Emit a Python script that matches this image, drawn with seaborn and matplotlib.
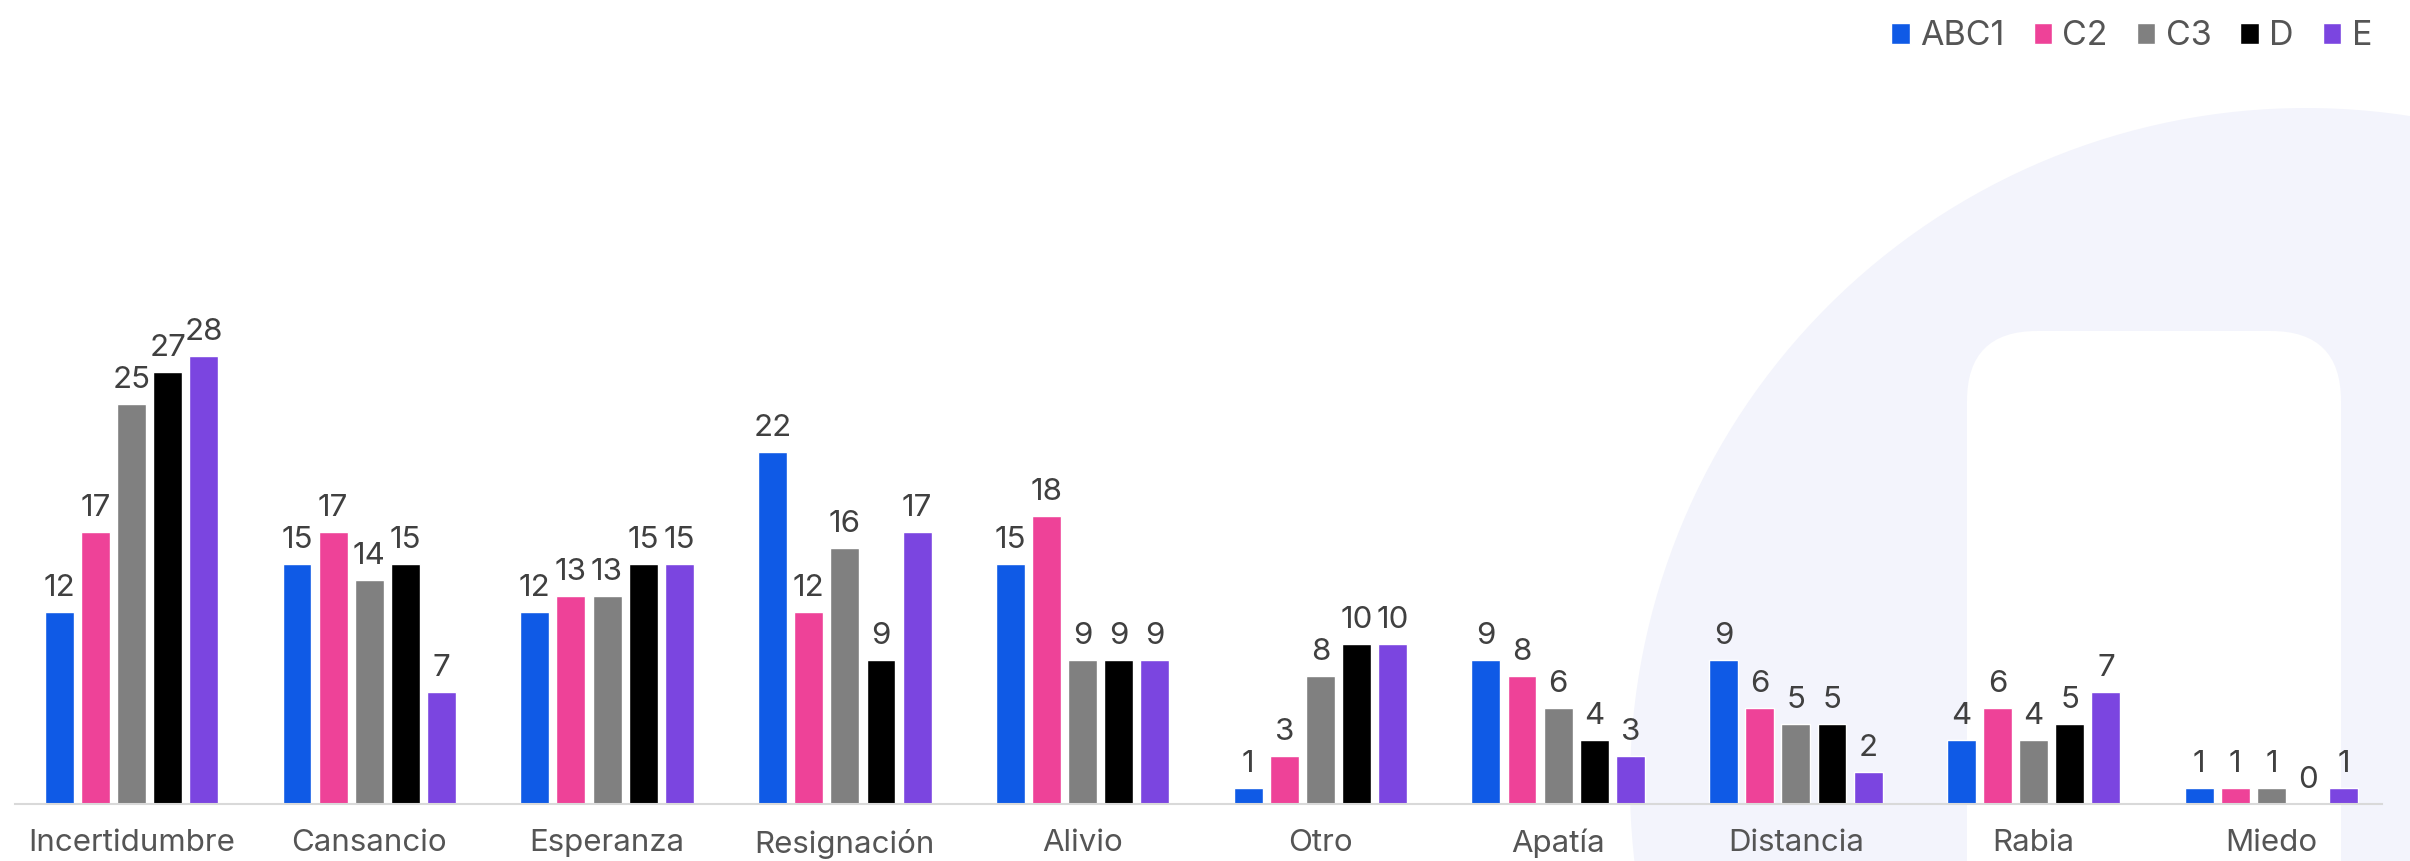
import pandas as pd
import matplotlib.pyplot as plt
import seaborn as sns
from matplotlib.patches import Circle, FancyBboxPatch

# datos
categorias = ['Incertidumbre', 'Cansancio', 'Esperanza', 'Resignación', 'Alivio',
              'Otro', 'Apatía', 'Distancia', 'Rabia', 'Miedo']
grupos = ['ABC1', 'C2', 'C3', 'D', 'E']
abc1 = [12, 15, 12, 22, 15, 1, 9, 9, 4, 1]
c2 = [17, 17, 13, 12, 18, 3, 8, 6, 6, 1]
c3 = [25, 14, 13, 16, 9, 8, 6, 5, 4, 1]
d = [27, 15, 15, 9, 9, 10, 4, 5, 5, 0]
e = [28, 7, 15, 17, 9, 10, 3, 2, 7, 1]
colores = ['#0f5ae6', '#ee4298', '#808080', '#000000', '#7b45e0']

filas = []
for g, vals in zip(grupos, [abc1, c2, c3, d, e]):
    for cat, v in zip(categorias, vals):
        filas.append({'categoria': cat, 'grupo': g, 'valor': v})
df = pd.DataFrame(filas)

sns.set_style('white')
plt.rcParams['font.family'] = ['Inter', 'DejaVu Sans']

fig = plt.figure(figsize=(24.1, 8.61), dpi=100)

# fondo decorativo
bg = fig.add_axes([0, 0, 1, 1], zorder=-1)
bg.set_xlim(0, 2410)
bg.set_ylim(861, 0)
bg.axis('off')
bg.add_patch(Circle((2306, 784), 676, color='#f3f4fc', lw=0))
bg.add_patch(FancyBboxPatch((1967, 331), 374, 700,
                            boxstyle='round,pad=0,rounding_size=70',
                            color='white', lw=0))

ax = fig.add_axes([15 / 2410, 57 / 861, 2367 / 2410, 804 / 861])
ax.patch.set_alpha(0)
sns.barplot(data=df, x='categoria', y='valor', hue='grupo', order=categorias,
            hue_order=grupos, palette=colores, width=0.76, gap=0.2,
            saturation=1, ax=ax)

for cont in ax.containers:
    ax.bar_label(cont, padding=7, fontsize=22.5, color='#404040')

ax.set_ylim(0, 50.25)
ax.set_xlim(-0.49, 9.465)
ax.set_xlabel('')
ax.set_ylabel('')
ax.set_yticks([])
ax.tick_params(axis='x', length=0, pad=18, labelsize=22.5, labelcolor='#555555')
for s in ['top', 'left', 'right']:
    ax.spines[s].set_visible(False)
ax.spines['bottom'].set_color('#d9d9d9')
ax.spines['bottom'].set_linewidth(1.5)

handles, labels = ax.get_legend_handles_labels()
ax.get_legend().remove()
fig.legend(handles, labels, loc='upper right', bbox_to_anchor=(0.997, 1.012),
           ncol=5, frameon=False, fontsize=24.5, labelcolor='#555555',
           handlelength=0.55, handleheight=0.55, handletextpad=0.3,
           columnspacing=0.85)

fig.savefig('out.png', dpi=100)
